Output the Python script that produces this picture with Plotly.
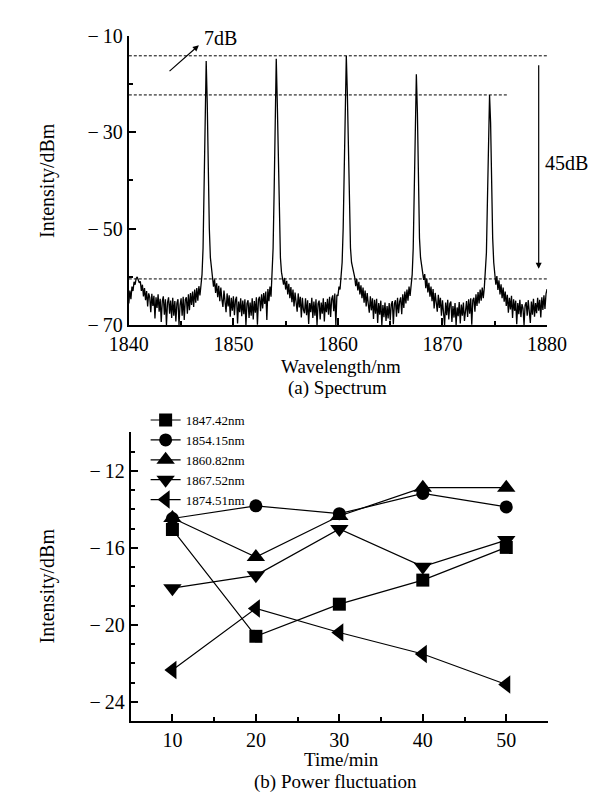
import numpy as np
import plotly.graph_objects as go

# ---------------- (a) Spectrum data ----------------
wl_start = 1840.0
wl_step = 0.1
spectrum_dbm = [
    -65.5, -62.8, -64.6, -62.0, -62.9, -61.0, -61.6, -60.3, -60.0, -60.6,
    -61.2, -60.9, -62.9, -61.6, -64.0, -62.3, -64.8, -62.9, -66.1, -63.4,
    -64.2, -67.3, -63.5, -66.0, -63.9, -68.6, -64.2, -66.4, -63.6, -67.2,
    -64.5, -69.3, -65.0, -64.0, -67.8, -64.6, -70.0, -65.3, -64.2, -67.6,
    -64.9, -68.5, -64.3, -68.0, -65.0, -69.2, -65.4, -64.6, -70.0, -65.8,
    -64.4, -68.0, -64.1, -68.9, -64.7, -64.2, -67.6, -63.6, -66.9, -63.3,
    -65.8, -63.0, -66.2, -62.6, -65.3, -62.3, -64.9, -61.9, -63.8, -61.7,
    -59.5, -54.0, -42.0, -27.0, -15.3, -24.0, -38.0, -50.0, -56.0, -59.0,
    -60.0, -62.0, -60.5, -63.3, -61.3, -64.2, -61.8, -65.0, -62.2, -64.6,
    -66.2, -62.8, -65.5, -67.3, -63.4, -66.1, -63.8, -68.2, -64.3, -67.0,
    -64.0, -67.9, -64.8, -64.1, -69.6, -65.1, -67.3, -64.4, -68.1, -64.9,
    -67.7, -64.6, -70.0, -65.5, -64.8, -68.5, -65.3, -68.0, -64.4, -68.8,
    -65.0, -67.4, -64.2, -69.9, -64.7, -64.1, -67.1, -63.6, -66.5, -63.3,
    -65.6, -63.0, -68.9, -62.5, -65.0, -62.0, -64.1, -59.5, -54.0, -42.0,
    -27.0, -14.8, -24.0, -38.0, -50.0, -56.0, -59.0, -60.0, -61.6, -60.2,
    -62.6, -60.8, -63.6, -61.4, -64.4, -62.1, -65.2, -62.6, -66.1, -63.2,
    -65.4, -67.2, -63.4, -66.3, -64.1, -68.4, -64.3, -66.8, -67.5, -64.4,
    -67.9, -64.8, -69.7, -65.4, -67.3, -64.3, -68.5, -65.1, -68.0, -64.6,
    -70.0, -65.5, -64.9, -68.8, -65.3, -67.6, -64.4, -69.2, -65.2, -67.3,
    -64.5, -67.8, -64.1, -68.3, -64.6, -63.8, -67.1, -63.4, -70.0, -63.7,
    -63.9, -62.0, -62.6, -60.5, -57.0, -50.0, -38.0, -25.0, -14.2, -22.0,
    -34.0, -46.0, -54.0, -57.0, -58.0, -59.5, -60.0, -61.9, -60.4, -62.8,
    -61.0, -63.6, -61.7, -64.4, -62.2, -65.3, -62.8, -66.1, -63.3, -65.6,
    -67.4, -64.0, -66.9, -64.4, -68.7, -64.7, -67.6, -64.5, -69.5, -65.4,
    -67.8, -64.9, -70.0, -65.8, -68.3, -65.3, -69.1, -66.0, -68.6, -65.4,
    -69.0, -65.7, -65.0, -69.8, -65.5, -64.8, -68.2, -64.3, -67.5, -65.1,
    -64.2, -67.7, -63.6, -66.4, -63.0, -65.5, -62.6, -64.9, -62.0, -63.9,
    -62.0, -59.5, -54.0, -42.0, -28.0, -18.0, -26.0, -40.0, -52.0, -56.0,
    -57.5, -58.3, -60.6, -59.4, -62.3, -60.3, -63.2, -61.2, -64.1, -62.0,
    -65.0, -62.5, -66.5, -63.3, -65.6, -67.2, -63.7, -66.4, -64.3, -68.0,
    -64.8, -67.4, -70.0, -65.3, -67.9, -64.7, -68.8, -65.5, -65.1, -69.3,
    -66.0, -68.4, -65.4, -70.0, -66.3, -68.1, -65.2, -69.6, -65.7, -68.0,
    -65.3, -69.1, -65.9, -65.0, -68.3, -64.6, -67.6, -64.4, -69.9, -64.8,
    -64.3, -67.2, -63.6, -66.0, -63.1, -65.5, -62.6, -64.9, -62.2, -64.4,
    -62.2, -59.5, -55.0, -44.0, -31.0, -22.3, -28.0, -41.0, -52.0, -57.0,
    -59.0, -61.6, -59.8, -62.7, -60.7, -63.6, -61.5, -64.4, -62.2, -65.1,
    -63.0, -66.0, -63.7, -67.4, -64.3, -66.7, -63.9, -68.5, -64.6, -67.0,
    -64.9, -69.8, -65.4, -67.7, -64.7, -68.3, -65.6, -66.5, -70.0, -65.8,
    -65.2, -68.0, -64.8, -67.4, -69.5, -65.1, -67.8, -64.5, -68.2, -65.4,
    -67.5, -64.3, -67.0, -64.7, -68.4, -64.2, -66.8, -63.8, -66.6, -63.5,
    -62.5,
]
wavelength_nm = np.round(wl_start + wl_step * np.arange(len(spectrum_dbm)), 2)

# reference levels in the spectrum (dBm) and where the dotted lines end (nm)
level_top = -14.2
level_mid = -22.3
level_floor = -60.4
level_top_end = 1880.0
level_mid_end = 1876.2
level_floor_end = 1880.0

spec_tickvals = [-70, -50, -30, -10]
spec_ticktext = ["\u2212\u200970", "\u2212\u200950", "\u2212\u200930", "\u2212\u200910"]

# ---------------- (b) Power fluctuation data ----------------
times_min = [10, 20, 30, 40, 50]
series_names = ["1847.42nm", "1854.15nm", "1860.82nm", "1867.52nm", "1874.51nm"]
p_1847 = [-15.05, -20.60, -18.93, -17.68, -15.98]
p_1854 = [-14.48, -13.82, -14.23, -13.18, -13.88]
p_1860 = [-14.45, -16.48, -14.35, -12.88, -12.88]
p_1867 = [-18.10, -17.43, -15.02, -16.98, -15.60]
p_1874 = [-22.35, -19.15, -20.40, -21.52, -23.10]
series_values = [p_1847, p_1854, p_1860, p_1867, p_1874]
series_symbols = ["square", "circle", "triangle-up", "triangle-down", "triangle-left"]
series_sizes = [13, 13, 16, 16, 16]

pow_tickvals = [-24, -20, -16, -12]
pow_ticktext = ["\u2212\u200924", "\u2212\u200920", "\u2212\u200916", "\u2212\u200912"]

# ---------------- figure ----------------
W, H = 602, 796
FONT = "Liberation Serif"


def fx(p):
    return p / W


def fy(p):
    return 1 - p / H


fig = go.Figure()

fig.add_trace(go.Scatter(
    x=wavelength_nm, y=spectrum_dbm, mode="lines",
    line=dict(color="black", width=1.3), showlegend=False,
    xaxis="x", yaxis="y",
))

for name, vals, sym, sz in zip(series_names, series_values, series_symbols, series_sizes):
    fig.add_trace(go.Scatter(
        x=times_min, y=vals, mode="lines+markers", name=name,
        line=dict(color="black", width=1.2),
        marker=dict(symbol=sym, size=sz, color="black"),
        xaxis="x2", yaxis="y2",
    ))

axis_common = dict(
    showline=True, linewidth=2, linecolor="black", mirror=False,
    ticks="inside", ticklen=7, tickwidth=1.5, tickcolor="black",
    showgrid=False, zeroline=False,
    tickfont=dict(family=FONT, size=20, color="black"),
)
minor_common = dict(ticks="inside", ticklen=4, tickwidth=1.5, tickcolor="black")

shapes = []
for lvl, x_end in [(level_top, level_top_end), (level_mid, level_mid_end), (level_floor, level_floor_end)]:
    shapes.append(dict(type="line", xref="x", yref="y", x0=1840, x1=x_end, y0=lvl, y1=lvl,
                       line=dict(color="black", width=1, dash="3px,2px")))

txt = dict(family=FONT, size=20, color="black")
cap = dict(family=FONT, size=19, color="black")


def label(text, px, py, font=txt, **kw):
    d = dict(text=text, xref="paper", yref="paper", x=fx(px), y=fy(py),
             xanchor="center", yanchor="middle", showarrow=False, font=font)
    d.update(kw)
    return d


annotations = [
    label("Intensity/dBm", 21, 166, textangle=-90),
    label("Intensity/dBm", 21, 583, textangle=-90),
    label("Wavelength/nm", 335, 357, font=cap),
    label("(a) Spectrum", 331, 380, font=cap),
    label("Time/min", 336, 762, font=cap),
    label("(b) Power fluctuation", 329, 785, font=cap),
    label("45dB", 577, 148),
    # 7dB arrow
    dict(text="", xref="x", yref="y", x=1846.7, y=-12.0, ax=1843.75, ay=-17.65,
         axref="x", ayref="y", showarrow=True, arrowhead=2, arrowsize=1, arrowwidth=1.2,
         arrowcolor="black"),
    dict(text="7dB", xref="x", yref="y", x=1848.75, y=-10.6, showarrow=False,
         xanchor="center", yanchor="middle", font=txt),
    # 45dB arrow
    dict(text="", xref="x", yref="y", x=1879.2, y=-58.3, ax=1879.2, ay=-15.84,
         axref="x", ayref="y", showarrow=True, arrowhead=2, arrowsize=1, arrowwidth=1.2,
         arrowcolor="black"),
]

fig.update_layout(
    width=W, height=H, margin=dict(l=0, r=0, t=0, b=0),
    paper_bgcolor="white", plot_bgcolor="white",
    font=dict(family=FONT, color="black"),
    xaxis=dict(domain=[fx(108), fx(556)], anchor="y", range=[1840, 1880],
               tick0=1840, dtick=10, minor=dict(dtick=5, **minor_common), **axis_common),
    yaxis=dict(domain=[fy(315), fy(17)], anchor="x", range=[-70, -10],
               tickvals=spec_tickvals, ticktext=spec_ticktext,
               minor=dict(tick0=-70, dtick=10, **minor_common), **axis_common),
    xaxis2=dict(domain=[fx(110), fx(557)], anchor="y2", range=[5, 55],
                tick0=10, dtick=10, minor=dict(dtick=5, **minor_common), **axis_common),
    yaxis2=dict(domain=[fy(722), fy(425)], anchor="x2", range=[-25, -10],
                tickvals=pow_tickvals, ticktext=pow_ticktext,
                minor=dict(tick0=-25, dtick=1, **minor_common), **axis_common),
    shapes=shapes,
    annotations=annotations,
    showlegend=True,
    legend=dict(x=fx(126), y=fy(397), xanchor="left", yanchor="top",
                bgcolor="rgba(0,0,0,0)", borderwidth=0,
                font=dict(family=FONT, size=13, color="black")),
)

fig.write_html("out.html")
